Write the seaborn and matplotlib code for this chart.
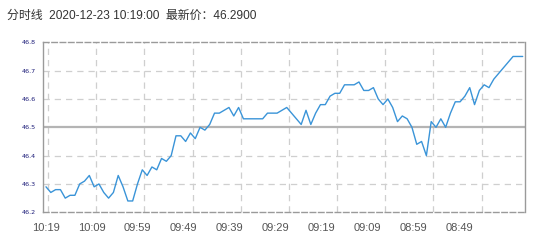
import numpy as np
import pandas as pd
import matplotlib
matplotlib.use("Agg")
import matplotlib.pyplot as plt
import seaborn as sns

# ---- data ----
prices = [46.29, 46.27, 46.28, 46.28, 46.25, 46.26, 46.26, 46.30, 46.31, 46.33,
          46.29, 46.30, 46.27, 46.25, 46.27, 46.33, 46.29, 46.24, 46.24, 46.30,
          46.35, 46.33, 46.36, 46.35, 46.39, 46.38, 46.40, 46.47, 46.47, 46.45,
          46.48, 46.46, 46.50, 46.49, 46.51, 46.55, 46.55, 46.56, 46.57, 46.54,
          46.57, 46.53, 46.53, 46.53, 46.53, 46.53, 46.55, 46.55, 46.55, 46.56,
          46.57, 46.55, 46.53, 46.51, 46.56, 46.51, 46.55, 46.58, 46.58, 46.61,
          46.62, 46.62, 46.65, 46.65, 46.65, 46.66, 46.63, 46.63, 46.64, 46.60,
          46.58, 46.60, 46.57, 46.52, 46.54, 46.53, 46.50, 46.44, 46.45, 46.40,
          46.52, 46.50, 46.53, 46.50, 46.55, 46.59, 46.59, 46.61, 46.64, 46.58,
          46.63, 46.65, 46.64, 46.67, 46.69, 46.71, 46.73, 46.75, 46.75, 46.75]
time_labels = ["10:19", "10:09", "09:59", "09:49", "09:39",
               "09:29", "09:19", "09:09", "08:59", "08:49"]
y_ticks = [46.2, 46.3, 46.4, 46.5, 46.6, 46.7, 46.8]
ref_price = 46.5
title_text = "分时线  2020-12-23 10:19:00  最新价：46.2900"

df = pd.DataFrame({"idx": np.arange(len(prices)), "price": prices})

sns.set_theme(style="white")
plt.rcParams["font.family"] = ["Liberation Sans", "Noto Sans CJK SC", "DejaVu Sans"]

fig = plt.figure(figsize=(5.48, 2.44), dpi=100)
ax = fig.add_axes([43 / 548, 1 - 212.3 / 244, (525 - 43) / 548, (212.3 - 42.3) / 244])

grid_kw = dict(color="#cfcfcf", lw=0.9, ls=(0, (5, 4)), zorder=1)
for v in y_ticks[1:-1]:
    if v != ref_price:
        ax.axhline(v, **grid_kw)
for k in range(10):
    ax.axvline(0.45 + 10 * k, **grid_kw)
ax.axhline(ref_price, color="#b4b4b4", lw=1.6, zorder=2)

sns.lineplot(data=df, x="idx", y="price", ax=ax, color="#3a94d8", lw=1.0, zorder=3)

ax.set_xlim(-0.62, 99.48)
ax.set_ylim(46.2, 46.8)
ax.set_xlabel("")
ax.set_ylabel("")

ax.set_yticks(y_ticks)
ax.set_yticklabels([f"{v:.1f}" for v in y_ticks], fontsize=4.6, color="#1c1c78",
                   family=["DejaVu Sans"])
ax.tick_params(axis="y", length=0, pad=5)

xt = [-0.06 + 9.553 * k for k in range(len(time_labels))]
ax.set_xticks(xt)
ax.set_xticklabels(time_labels, fontsize=8, color="#555555")
ax.tick_params(axis="x", direction="in", length=4, width=0.8, color="#d0d0d0", pad=8)

for side in ["left", "right"]:
    ax.spines[side].set_color("#9a9a9a")
    ax.spines[side].set_linewidth(1.0)
for side in ["top", "bottom"]:
    ax.spines[side].set_color("#9a9a9a")
    ax.spines[side].set_linewidth(1.0)
    ax.spines[side].set_linestyle((0, (4, 2)))

fig.text(7 / 548, 1 - 15.5 / 244, title_text, fontsize=8.6, color="#333333",
         va="center", ha="left")

fig.savefig("out.png", dpi=100, facecolor="white")
